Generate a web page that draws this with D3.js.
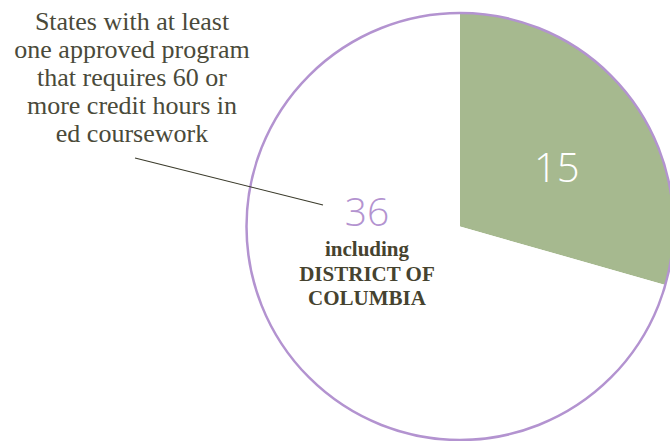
<!DOCTYPE html>
<html><head><meta charset="utf-8">
<script src="https://cdn.jsdelivr.net/npm/d3@7"></script>
<style>html,body{margin:0;padding:0;background:#fff;}</style>
</head><body>
<svg id="chart" width="670" height="441"></svg>
<script>
const categories = ["With 60+ credit hours", "Other states"];
const values = [15, 36];
const sliceColors = ["#a6b98f", "#ffffff"];
const calloutLines = ["States with at least", "one approved program", "that requires 60 or", "more credit hours in", "ed coursework"];
const noteLines = ["including", "DISTRICT OF", "COLUMBIA"];

const svg = d3.select("#chart");
const cx = 460, cy = 226.5, R = 213.5;
const g = svg.append("g").attr("transform", `translate(${cx},${cy})`);

const pie = d3.pie().sort(null).value(d => d)(values);
const arc = d3.arc().innerRadius(0).outerRadius(R);
g.selectAll("path.slice").data(pie).join("path")
  .attr("class", "slice")
  .attr("d", arc)
  .attr("fill", (d, i) => sliceColors[i]);

g.append("circle").attr("r", R).attr("fill", "none")
  .attr("stroke", "#b393d0").attr("stroke-width", 2.5);

// label for green slice
const labelArc = d3.arc().innerRadius(115).outerRadius(115);
const c0 = labelArc.centroid(pie[0]);
g.append("text").attr("x", c0[0] + 5).attr("y", c0[1] + 25)
  .attr("text-anchor", "middle")
  .attr("font-family", "'Open Sans', sans-serif").attr("font-weight", 300)
  .attr("font-size", 40).attr("fill", "#ffffff").text(values[0]);

// label for other slice
svg.append("text").attr("x", 367).attr("y", 226)
  .attr("text-anchor", "middle")
  .attr("font-family", "'Open Sans', sans-serif").attr("font-weight", 300)
  .attr("font-size", 39).attr("fill", "#b393d0").text(values[1]);

const noteY = [256, 281, 305];
svg.selectAll("text.note").data(noteLines).join("text")
  .attr("class", "note")
  .attr("x", 367).attr("y", (d, i) => noteY[i])
  .attr("text-anchor", "middle")
  .attr("font-family", "'Liberation Serif', serif").attr("font-weight", "bold")
  .attr("font-size", 21).attr("fill", "#46432f").text(d => d);

// callout
svg.selectAll("text.callout").data(calloutLines).join("text")
  .attr("class", "callout")
  .attr("x", 132).attr("y", (d, i) => 30 + i * 28)
  .attr("text-anchor", "middle")
  .attr("font-family", "'Liberation Serif', serif")
  .attr("font-size", 26).attr("fill", "#4a4a3a").text(d => d);

svg.append("line").attr("x1", 135).attr("y1", 158).attr("x2", 323).attr("y2", 205)
  .attr("stroke", "#3a3a2a").attr("stroke-width", 1.2);
</script>
</body></html>
